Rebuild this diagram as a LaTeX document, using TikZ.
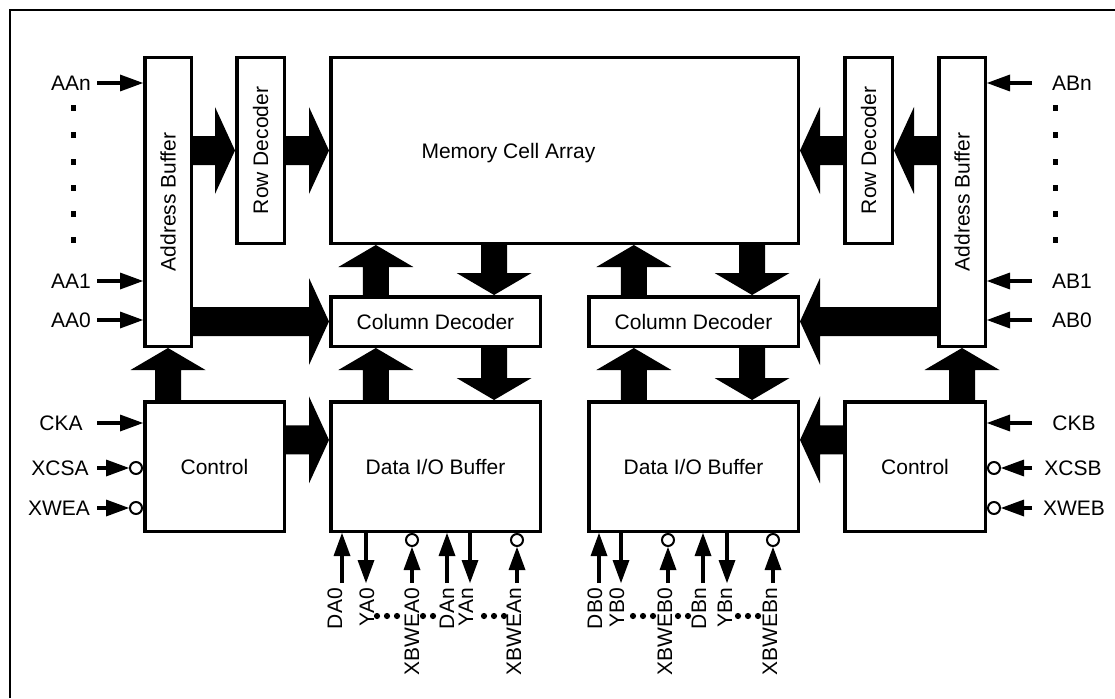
\documentclass[tikz,border=0pt]{standalone}
\usepackage{fontspec}
\setmainfont{Liberation Sans}
\usetikzlibrary{calc,arrows.meta}

\newcommand\diafont{\fontsize{21}{25}\selectfont}

% wide block arrow: #1 start, #2 tip, #3 half shaft width, #4 half head width, #5 head length
\newcommand\fatarrow[5]{%
  \path (#1) coordinate (fa) (#2) coordinate (fb);
  \path ($(fb)!#5!(fa)$) coordinate (fh);
  \fill ($(fa)!#3!90:(fb)$) -- ($(fh)!#3!-90:(fa)$) -- ($(fh)!#4!-90:(fa)$) -- (fb)
        -- ($(fh)!#4!90:(fa)$) -- ($(fh)!#3!90:(fa)$) -- ($(fa)!#3!-90:(fb)$) -- cycle;}
\newcommand\harrow[2]{\fatarrow{#1}{#2}{14.5pt}{43.5pt}{20pt}}
\newcommand\varrow[2]{\fatarrow{#1}{#2}{13pt}{37.5pt}{22pt}}

\begin{document}
\begin{tikzpicture}[x=1pt,y=-1pt,
  every node/.style={font=\diafont},
  blk/.style={draw, line width=3.5pt, inner sep=0pt},
  bubble/.style={circle, draw, line width=2pt, fill=white, minimum size=12pt, inner sep=0pt},
  sig/.style={line width=4pt, -{Triangle[length=23pt,width=17pt,line width=0pt]}},
  lbl/.style={inner sep=0pt},
  vlbl/.style={inner sep=0pt, rotate=90, anchor=east}]

\useasboundingbox (0,0) rectangle (1115,698);
\draw[line width=1.5pt] (10,698) -- (10,10) -- (1115,10);

% ---------- blocks ----------
\node[blk, minimum width=46.5pt, minimum height=288.5pt] (abL) at (168,202) {\rotatebox{90}{Address Buffer}};
\node[blk, minimum width=47.5pt, minimum height=185.5pt] (rdL) at (260.5,150.5) {\rotatebox{90}{Row Decoder}};
\node[blk, minimum width=467.5pt, minimum height=185.5pt] (mem) at (564.5,150.5) {};
\node[lbl, anchor=base] (memtxt) at (508.5,158) {Memory Cell Array};
\node[blk, minimum width=47.5pt, minimum height=185.5pt] (rdR) at (868.5,150.5) {\rotatebox{90}{Row Decoder}};
\node[blk, minimum width=46.5pt, minimum height=288.5pt] (abR) at (962,202) {\rotatebox{90}{Address Buffer}};

\node[blk, minimum width=209.5pt, minimum height=49.5pt] (cdL) at (435.5,321.5) {Column Decoder};
\node[blk, minimum width=209.5pt, minimum height=49.5pt] (cdR) at (693.5,321.5) {Column Decoder};

\node[blk, minimum width=209.5pt, minimum height=129.5pt] (dioL) at (435.5,466.5) {Data I/O Buffer};
\node[blk, minimum width=209.5pt, minimum height=129.5pt] (dioR) at (693.5,466.5) {Data I/O Buffer};
\node[blk, minimum width=139.5pt, minimum height=129.5pt] (ctlL) at (214.5,466.5) {Control};
\node[blk, minimum width=140.5pt, minimum height=129.5pt] (ctlR) at (915,466.5) {Control};

% ---------- internal buses ----------
\coordinate (cL1) at ($(cdL.north west)!0.22!(cdL.north east)$);
\coordinate (cL2) at ($(cdL.north west)!0.775!(cdL.north east)$);
\coordinate (cR1) at ($(cdR.north west)!0.22!(cdR.north east)$);
\coordinate (cR2) at ($(cdR.north west)!0.775!(cdR.north east)$);
\coordinate (kL) at ($(ctlL.north east)!0.3!(ctlL.south east)$);
\coordinate (kR) at ($(ctlR.north west)!0.3!(ctlR.south west)$);

\harrow{abL.east |- rdL.west}{rdL.west}
\harrow{rdL.east}{mem.west |- rdL.east}
\harrow{abL.east |- cdL.west}{cdL.west}
\harrow{kL}{dioL.west |- kL}
\harrow{abR.west |- rdR.east}{rdR.east}
\harrow{rdR.west}{mem.east |- rdR.west}
\harrow{abR.west |- cdR.east}{cdR.east}
\harrow{kR}{dioR.east |- kR}

\varrow{cL1}{mem.south -| cL1}
\varrow{mem.south -| cL2}{cL2}
\varrow{dioL.north -| cL1}{cdL.south -| cL1}
\varrow{cdL.south -| cL2}{dioL.north -| cL2}
\varrow{cR1}{mem.south -| cR1}
\varrow{mem.south -| cR2}{cR2}
\varrow{dioR.north -| cR1}{cdR.south -| cR1}
\varrow{cdR.south -| cR2}{dioR.north -| cR2}
\varrow{ctlL.north -| abL.south}{abL.south}
\varrow{ctlR.north -| abR.south}{abR.south}

% ---------- port A address and control inputs ----------
\coordinate (sAAn) at (97,83);  \draw[sig] (sAAn) -- (abL.west |- sAAn);
\coordinate (sAA1) at (97,281); \draw[sig] (sAA1) -- (abL.west |- sAA1);
\coordinate (sAA0) at (97,320); \draw[sig] (sAA0) -- (abL.west |- sAA0);
\node[lbl, anchor=east] (tAAn) at (91,83) {AAn};
\node[lbl, anchor=east] (tAA1) at (91,281) {AA1};
\node[lbl, anchor=east] (tAA0) at (91,320) {AA0};
\foreach \yy in {108,135,162,188,214,240} \fill (70.5,\yy-3) rectangle (75.5,\yy+3);

\coordinate (sCKA) at (97,423); \draw[sig] (sCKA) -- (ctlL.west |- sCKA);
\coordinate (sXCSA) at (97,468); \node[bubble, anchor=east] (bXCSA) at (ctlL.west |- sXCSA) {};
\draw[sig] (sXCSA) -- (bXCSA.west);
\coordinate (sXWEA) at (97,508); \node[bubble, anchor=east] (bXWEA) at (ctlL.west |- sXWEA) {};
\draw[sig] (sXWEA) -- (bXWEA.west);
\node[lbl] (tCKA) at (61,423) {CKA};
\node[lbl] (tXCSA) at (60,468) {XCSA};
\node[lbl] (tXWEA) at (59,508) {XWEA};

% ---------- port B address and control inputs ----------
\coordinate (sABn) at (1032,83);  \draw[sig] (sABn) -- (abR.east |- sABn);
\coordinate (sAB1) at (1032,281); \draw[sig] (sAB1) -- (abR.east |- sAB1);
\coordinate (sAB0) at (1032,320); \draw[sig] (sAB0) -- (abR.east |- sAB0);
\node[lbl, anchor=west] (tABn) at (1052,83) {ABn};
\node[lbl, anchor=west] (tAB1) at (1052,281) {AB1};
\node[lbl, anchor=west] (tAB0) at (1052,320) {AB0};
\foreach \yy in {108,135,162,188,214,240} \fill (1052.5,\yy-3) rectangle (1057.5,\yy+3);

\coordinate (sCKB) at (1032,423); \draw[sig] (sCKB) -- (ctlR.east |- sCKB);
\coordinate (sXCSB) at (1032,468); \node[bubble, anchor=west] (bXCSB) at (ctlR.east |- sXCSB) {};
\draw[sig] (sXCSB) -- (bXCSB.east);
\coordinate (sXWEB) at (1032,508); \node[bubble, anchor=west] (bXWEB) at (ctlR.east |- sXWEB) {};
\draw[sig] (sXWEB) -- (bXWEB.east);
\node[lbl] (tCKB) at (1074,423) {CKB};
\node[lbl] (tXCSB) at (1073,468) {XCSB};
\node[lbl] (tXWEB) at (1074,508) {XWEB};

% ---------- port A data pins ----------
\coordinate (pDA0) at (342,583); \draw[sig] (pDA0) -- (dioL.south -| pDA0);
\coordinate (pYA0) at (366,583); \draw[sig] (dioL.south -| pYA0) -- (pYA0);
\coordinate (pXA0) at (412,583); \node[bubble, anchor=north] (bXA0) at (dioL.south -| pXA0) {};
\draw[sig] (pXA0) -- (bXA0.south);
\coordinate (pDAn) at (447,583); \draw[sig] (pDAn) -- (dioL.south -| pDAn);
\coordinate (pYAn) at (470,583); \draw[sig] (dioL.south -| pYAn) -- (pYAn);
\coordinate (pXAn) at (517,583); \node[bubble, anchor=north] (bXAn) at (dioL.south -| pXAn) {};
\draw[sig] (pXAn) -- (bXAn.south);

\node[vlbl] (tDA0) at (335,588) {DA0};
\node[vlbl] (tYA0) at (367,588) {YA0};
\node[vlbl] (tXA0) at (412,588) {XBWEA0};
\node[vlbl] (tDAn) at (447,588) {DAn};
\node[vlbl] (tYAn) at (466,588) {YAn};
\node[vlbl] (tXAn) at (514,588) {XBWEAn};
\foreach \xx in {377,387,397,423,433,484,494,504} \fill (\xx,616) circle (3.1);

% ---------- port B data pins ----------
\coordinate (pDB0) at (599,583); \draw[sig] (pDB0) -- (dioR.south -| pDB0);
\coordinate (pYB0) at (621,583); \draw[sig] (dioR.south -| pYB0) -- (pYB0);
\coordinate (pXB0) at (668,583); \node[bubble, anchor=north] (bXB0) at (dioR.south -| pXB0) {};
\draw[sig] (pXB0) -- (bXB0.south);
\coordinate (pDBn) at (703,583); \draw[sig] (pDBn) -- (dioR.south -| pDBn);
\coordinate (pYBn) at (727,583); \draw[sig] (dioR.south -| pYBn) -- (pYBn);
\coordinate (pXBn) at (773,583); \node[bubble, anchor=north] (bXBn) at (dioR.south -| pXBn) {};
\draw[sig] (pXBn) -- (bXBn.south);

\node[vlbl] (tDB0) at (595,588) {DB0};
\node[vlbl] (tYB0) at (617,588) {YB0};
\node[vlbl] (tXB0) at (665,588) {XBWEB0};
\node[vlbl] (tDBn) at (699,588) {DBn};
\node[vlbl] (tYBn) at (725,588) {YBn};
\node[vlbl] (tXBn) at (770,588) {XBWEBn};
\foreach \xx in {633,643,653,678,688,738,748,758} \fill (\xx,616) circle (3.1);

\end{tikzpicture}
\end{document}
